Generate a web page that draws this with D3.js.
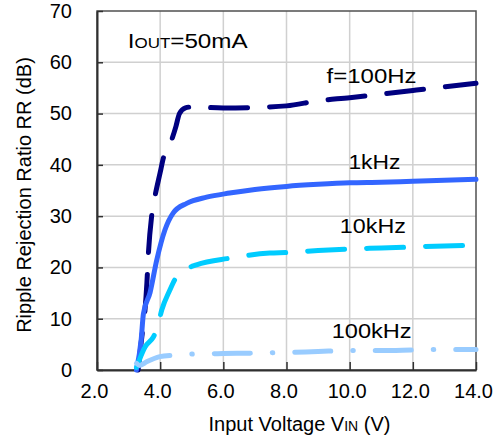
<!DOCTYPE html>
<html><head><meta charset="utf-8">
<script src="https://cdn.jsdelivr.net/npm/d3@7"></script>
<style>body{margin:0;background:#fff}svg{display:block}text{font-family:"Liberation Sans",Arial,sans-serif;fill:#000}</style>
</head><body><div id="chart"></div>
<script>
const xTicks = [2, 4, 6, 8, 10, 12, 14];
const yTicks = [0, 10, 20, 30, 40, 50, 60, 70];
const xTickLabels = ["2.0", "4.0", "6.0", "8.0", "10.0", "12.0", "14.0"];
const seriesNames = ["f=100Hz", "1kHz", "10kHz", "100kHz"];
const vin100Hz = [3.3, 3.42, 3.52, 3.58, 3.63, 3.73, 3.84, 4.0, 4.1, 4.36, 4.5, 4.61, 4.8, 5.0, 6.0, 7.0, 8.0, 9.0, 10.0, 11.0, 12.0, 13.0, 14.0];
const rr100Hz  = [0, 6.5, 11.7, 17, 23, 30, 34, 38.5, 41.3, 44.8, 47.5, 50, 51.1, 51.3, 51.1, 51.2, 51.5, 52.5, 53.1, 53.8, 54.5, 55.2, 55.9];
const vin1k = [3.25, 3.4, 3.47, 3.68, 3.89, 4.15, 4.41, 4.84, 5.47, 6.2, 7.0, 8.0, 9.0, 10.0, 11.0, 12.0, 13.0, 14.0];
const rr1k  = [0, 6, 11, 15.1, 21.4, 27.3, 30.6, 32.5, 33.7, 34.5, 35.2, 35.8, 36.2, 36.5, 36.6, 36.8, 37.0, 37.2];
const vin10k = [3.25, 3.52, 3.78, 3.89, 4.05, 4.3, 4.52, 4.8, 5.15, 6.2, 7.47, 8.0, 9.0, 10.0, 11.0, 12.0, 13.0, 14.0];
const rr10k  = [0.5, 4.5, 6.4, 7.8, 11.7, 15.5, 18.2, 19.6, 20.5, 21.8, 22.8, 22.9, 23.3, 23.6, 23.8, 24.0, 24.2, 24.3];
const vin100k = [3.25, 3.35, 3.57, 3.99, 4.41, 5.0, 6.0, 7.0, 8.0, 9.0, 10.0, 11.0, 12.0, 13.0, 14.0];
const rr100k  = [1.3, 0.9, 1.6, 2.6, 2.9, 3.1, 3.2, 3.3, 3.4, 3.6, 3.8, 3.8, 3.9, 4.0, 4.0];

const W = 504, H = 441;
const m = {l: 97, r: 28, t: 11, b: 71};
const svg = d3.select("#chart").append("svg").attr("width", W).attr("height", H);
const x = d3.scaleLinear().domain([2, 14]).range([m.l, W - m.r]);
const y = d3.scaleLinear().domain([0, 70]).range([H - m.b, m.t]);

// grid
const g = svg.append("g");
g.selectAll(".gx").data(xTicks.slice(1, -1)).join("line")
  .attr("x1", d => x(d)).attr("x2", d => x(d)).attr("y1", y(0)).attr("y2", y(70))
  .attr("stroke", "#d0d0d0").attr("stroke-width", 1.5);
g.selectAll(".gy").data(yTicks.slice(1, -1)).join("line")
  .attr("x1", x(2)).attr("x2", x(14)).attr("y1", d => y(d)).attr("y2", d => y(d))
  .attr("stroke", "#d0d0d0").attr("stroke-width", 1.5);

// frame
svg.append("rect").attr("x", x(2)).attr("y", y(70)).attr("width", x(14) - x(2)).attr("height", y(0) - y(70))
  .attr("fill", "none").attr("stroke", "#505050").attr("stroke-width", 1.5);

// axes
const xAxis = d3.axisBottom(x).tickValues(xTicks).tickFormat((d, i) => xTickLabels[i]).tickSizeInner(-8).tickSizeOuter(0).tickPadding(14);
const ax = svg.append("g").attr("transform", `translate(0,${y(0)})`).call(xAxis);
ax.select(".domain").attr("stroke", "#303030").attr("stroke-width", 2);
ax.selectAll(".tick line").attr("stroke", "#303030").attr("stroke-width", 1.5);
ax.selectAll(".tick text").attr("font-size", 20).attr("dx", -3).attr("font-family", "Liberation Sans, Arial, sans-serif");

const yAxis = d3.axisLeft(y).tickValues(yTicks).tickFormat(d3.format("d")).tickSizeInner(-6).tickSizeOuter(0).tickPadding(25);
const ay = svg.append("g").attr("transform", `translate(${x(2)},0)`).call(yAxis);
ay.select(".domain").attr("stroke", "#303030").attr("stroke-width", 2);
ay.selectAll(".tick line").attr("stroke", "#303030").attr("stroke-width", 1.5);
ay.selectAll(".tick text").attr("font-size", 20).attr("font-family", "Liberation Sans, Arial, sans-serif");

// lines
const line = d3.line().x(d => x(d[0])).y(d => y(d[1])).curve(d3.curveMonotoneX);
const zip = (a, b) => a.map((v, i) => [v, b[i]]);
const series = [
  {data: zip(vin100Hz, rr100Hz), color: "#000080", dash: "37,22"},
  {data: zip(vin1k, rr1k), color: "#3366FF", dash: null},
  {data: zip(vin10k, rr10k), color: "#00CCFF", dash: "37,22"},
  {data: zip(vin100k, rr100k), color: "#99CCFF", dash: "36,22,0.5,22"}
];
svg.append("g").selectAll("path").data(series).join("path")
  .attr("d", d => line(d.data))
  .attr("fill", "none").attr("stroke", d => d.color).attr("stroke-width", 5)
  .attr("stroke-linecap", "round").attr("stroke-linejoin", "round")
  .attr("stroke-dasharray", d => d.dash);

// in-plot labels
const labels = [
  {t: seriesNames[0], vx: 9.27, vy: 55.9, len: 90},
  {t: seriesNames[1], vx: 9.96, vy: 39.1, len: 52},
  {t: seriesNames[2], vx: 9.69, vy: 26.8, len: 66},
  {t: seriesNames[3], vx: 9.43, vy: 6.3, len: 80}
];
svg.append("g").selectAll("text").data(labels).join("text")
  .attr("x", d => x(d.vx)).attr("y", d => y(d.vy))
  .attr("font-size", 20).attr("textLength", d => d.len).attr("lengthAdjust", "spacingAndGlyphs")
  .text(d => d.t);

const io = svg.append("text").attr("x", 127.7).attr("y", 47.7).attr("font-size", 20)
  .attr("textLength", 120).attr("lengthAdjust", "spacingAndGlyphs");
io.append("tspan").text("I");
io.append("tspan").attr("font-size", 14).text("OUT");
io.append("tspan").text("=50mA");

// axis titles
const xt = svg.append("text").attr("x", 299.5).attr("y", 431).attr("text-anchor", "middle").attr("font-size", 20);
xt.append("tspan").text("Input Voltage V");
xt.append("tspan").attr("font-size", 14).text("IN");
xt.append("tspan").text(" (V)");

svg.append("text").attr("transform", "translate(31,195) rotate(-90)").attr("text-anchor", "middle")
  .attr("font-size", 20).text("Ripple Rejection Ratio RR (dB)");
</script></body></html>
